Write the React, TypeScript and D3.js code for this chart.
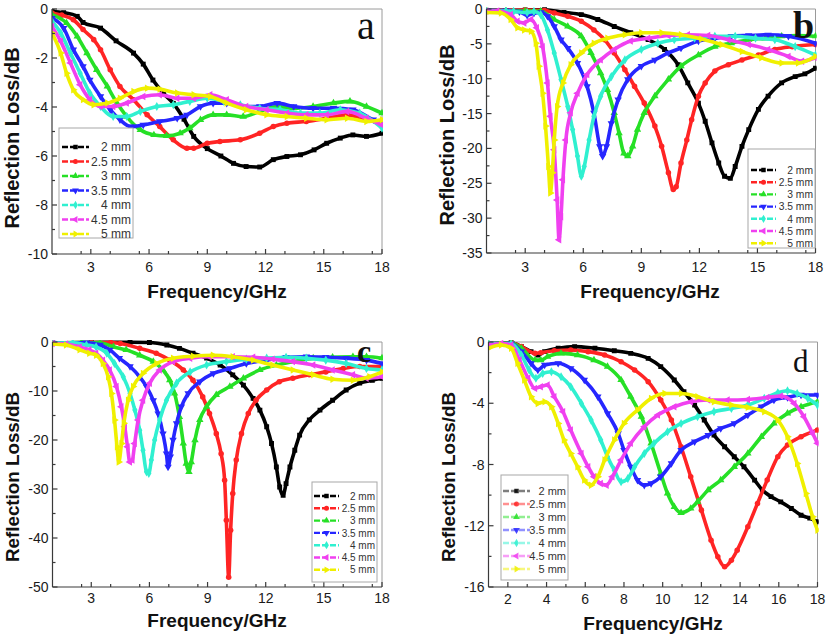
import React from 'react';
import * as d3 from 'd3';

type Pt = [number, number];

// ---------- DATA (frequency GHz, reflection loss dB) ----------
// Panel a
const a20: Pt[] = [[1,-0.1],[1.6,-0.15],[2.3,-0.3],[2.6,-0.55],[3.5,-0.78],[4.3,-1.3],[5.2,-1.8],[5.7,-2.25],[6.2,-2.9],[6.75,-3.45],[7.25,-3.85],[7.8,-4.5],[8.3,-5.2],[9,-5.7],[9.7,-6.0],[10.35,-6.3],[11,-6.43],[11.7,-6.45],[12.4,-6.15],[13.1,-6.02],[13.8,-5.95],[14.5,-5.75],[15.15,-5.48],[15.85,-5.27],[16.5,-5.14],[17.2,-5.2],[18,-5.07]];
const a25: Pt[] = [[1,-0.16],[1.5,-0.25],[2.1,-0.44],[2.6,-0.84],[3.15,-1.25],[3.5,-1.66],[4,-2.48],[4.5,-3.16],[5.2,-3.7],[5.9,-4.32],[6.55,-4.8],[7.25,-5.34],[7.95,-5.68],[8.3,-5.68],[9,-5.48],[9.65,-5.41],[10.7,-5.34],[11.7,-5.07],[12.4,-4.8],[13.1,-4.66],[14.1,-4.59],[15.15,-4.46],[16.2,-4.32],[17.2,-4.52],[18,-4.66]];
const a30: Pt[] = [[1,-0.23],[1.75,-0.57],[2.3,-1.12],[2.8,-1.8],[3.3,-2.48],[3.85,-3.16],[4.35,-3.84],[4.85,-4.39],[5.55,-4.93],[6.25,-5.14],[6.9,-5.18],[7.6,-5.07],[8.1,-4.86],[8.65,-4.52],[9.3,-4.32],[10,-4.32],[10.85,-4.39],[11.7,-4.18],[12.6,-3.98],[13.45,-4.05],[14.45,-3.98],[15.5,-3.84],[16.35,-3.77],[17.2,-3.98],[18,-4.25]];
const a35: Pt[] = [[1,-0.37],[1.6,-0.78],[2.1,-1.66],[2.6,-2.34],[2.95,-2.89],[3.5,-3.57],[4,-4.11],[4.5,-4.52],[5.05,-4.8],[5.7,-4.73],[6.55,-4.59],[7.45,-4.46],[7.95,-4.32],[8.65,-3.98],[9.3,-3.84],[10,-3.84],[10.85,-3.98],[11.7,-3.98],[12.6,-3.84],[13.45,-3.98],[14.45,-4.05],[15.5,-4.05],[16.5,-4.11],[17.55,-4.52],[18,-4.65]];
const a40: Pt[] = [[1,-0.5],[1.45,-0.98],[1.95,-1.8],[2.45,-2.62],[2.95,-3.43],[3.5,-3.98],[4.15,-4.39],[4.85,-4.39],[5.55,-4.18],[6.4,-3.98],[7.25,-3.91],[8.1,-3.77],[9,-3.64],[9.85,-3.77],[10.7,-3.91],[11.7,-4.05],[12.75,-4.11],[13.8,-4.25],[14.8,-4.25],[15.85,-4.11],[16.85,-4.25],[18,-4.86]];
const a45: Pt[] = [[1,-0.71],[1.45,-1.32],[1.95,-2.2],[2.45,-3.09],[2.95,-3.7],[3.5,-3.98],[4.15,-3.98],[4.85,-3.84],[5.7,-3.57],[6.55,-3.5],[7.45,-3.64],[8.3,-3.64],[9.15,-3.5],[10,-3.7],[11,-3.98],[12.05,-4.11],[13.1,-4.25],[14.1,-4.32],[15.15,-4.32],[16.2,-4.18],[17.2,-4.46],[18,-4.73]];
const a50: Pt[] = [[1,-0.98],[1.45,-1.8],[1.75,-2.62],[2.1,-3.3],[2.6,-3.7],[3.15,-3.91],[3.85,-3.84],[4.5,-3.64],[5.2,-3.37],[5.9,-3.23],[6.55,-3.27],[7.45,-3.43],[8.3,-3.5],[9.15,-3.57],[10,-3.84],[11,-4.11],[12.05,-4.32],[13.1,-4.39],[14.1,-4.46],[15.15,-4.52],[16.2,-4.46],[17.2,-4.59],[18,-4.52]];

// Panel b
const b20: Pt[] = [[1,-0.2],[2,-0.2],[3,-0.15],[4,-0.1],[5,-0.48],[5.9,-0.8],[6.75,-1.5],[7.6,-2.5],[8.45,-3.4],[9.35,-4.4],[10.2,-5.8],[10.9,-8],[11.4,-10.6],[11.95,-13.5],[12.3,-16.1],[12.65,-19.2],[13,-22.1],[13.3,-24],[13.6,-24.3],[13.85,-22.6],[14.2,-19.7],[14.55,-17.3],[15.05,-14.4],[15.55,-12.5],[16.25,-10.6],[16.95,-9.7],[17.45,-9.3],[18,-8.5]];
const b25: Pt[] = [[1,-0.2],[2,-0.2],[3,-0.15],[4,-0.2],[4.5,-0.57],[5.2,-1.05],[5.9,-1.77],[6.55,-3],[7.1,-4.4],[7.6,-6.3],[8.15,-8.7],[8.65,-11.1],[9.15,-13.5],[9.7,-16.8],[10.05,-19.7],[10.4,-23.5],[10.65,-25.9],[10.8,-25.5],[11.05,-22.1],[11.35,-18.8],[11.6,-15.9],[11.95,-12.5],[12.3,-10.6],[12.8,-8.9],[13.5,-8],[14.2,-7.3],[15.05,-6.6],[15.9,-5.8],[16.8,-5.4],[18,-5.1]];
const b30: Pt[] = [[1,-0.2],[2,-0.25],[3,-0.3],[3.8,-0.33],[4.5,-1.5],[5.2,-2.5],[5.9,-3.9],[6.4,-6.3],[6.9,-9.2],[7.25,-11.6],[7.6,-14.9],[7.85,-17.8],[8.1,-20.7],[8.3,-21.1],[8.55,-19.7],[8.8,-17.3],[9.15,-14.9],[9.7,-12.5],[10.4,-10.1],[11.05,-8.2],[11.95,-6.6],[12.8,-5.4],[13.65,-4.9],[14.55,-4.4],[15.4,-4.2],[16.25,-3.9],[17.1,-3.8],[18,-3.9]];
const b35: Pt[] = [[1,-0.2],[2,-0.25],[2.7,-0.4],[3.1,-0.9],[3.45,-0.6],[3.8,-0.5],[4.15,-1.05],[4.5,-2.5],[4.85,-4.4],[5.2,-5.6],[5.7,-7.75],[6.2,-11.1],[6.55,-14.9],[6.85,-19.7],[7,-21.1],[7.2,-19.7],[7.45,-16.4],[7.8,-13],[8.3,-10.1],[9,-8.2],[9.7,-7.3],[10.4,-6.3],[11.05,-5.6],[11.95,-4.6],[12.8,-4.2],[13.65,-3.9],[14.55,-3.8],[15.55,-3.7],[16.6,-3.9],[18,-4.9]];
const b40: Pt[] = [[1,-0.3],[2,-0.3],[2.4,-0.35],[3.1,-0.5],[3.45,-0.35],[3.8,-0.8],[4.15,-3],[4.5,-6.3],[4.85,-10.1],[5.2,-14],[5.45,-17.3],[5.7,-21.1],[5.9,-24],[6.05,-22.6],[6.3,-18.8],[6.55,-15.4],[6.9,-12.5],[7.45,-9.7],[8.15,-7.3],[9,-5.8],[9.85,-4.9],[10.7,-4.4],[11.75,-4.2],[12.8,-3.9],[13.85,-3.9],[14.9,-4.2],[15.9,-4.4],[16.95,-5.4],[18,-6.6]];
const b45: Pt[] = [[1,-0.3],[1.55,-0.3],[2.25,-0.8],[2.6,-1.77],[2.95,-2],[3.3,-1.5],[3.6,-2.7],[3.9,-5.4],[4.15,-10.6],[4.3,-15.4],[4.5,-20.2],[4.65,-27.4],[4.75,-33.1],[4.85,-29.8],[4.95,-24.5],[5.1,-18.8],[5.35,-14.9],[5.7,-12.1],[6.2,-9.4],[6.9,-7.3],[7.6,-5.8],[8.45,-4.6],[9.35,-4.2],[10.4,-3.8],[11.4,-3.7],[12.45,-3.8],[13.5,-4.4],[14.55,-5.1],[15.55,-5.8],[16.6,-6.8],[17.3,-7.5],[18,-7]];
const b50: Pt[] = [[1,-0.5],[1.75,-0.57],[2.25,-1.5],[2.6,-2.7],[2.95,-3],[3.3,-3.2],[3.55,-4.9],[3.7,-8.2],[3.9,-12.1],[4.05,-16.8],[4.2,-22.6],[4.3,-26.4],[4.4,-23.5],[4.5,-18.8],[4.65,-14],[4.95,-10.6],[5.35,-8],[5.9,-6.3],[6.55,-4.9],[7.25,-4.2],[8.15,-3.7],[9,-3.4],[10.05,-3.4],[11.05,-3.7],[12.1,-4.3],[13.15,-5.1],[14.2,-6.1],[15.2,-7],[16.25,-7.75],[17.1,-7.75],[18,-6.8]];

// Panel c
const c20: Pt[] = [[1,-0.2],[3,-0.1],[5,-0.05],[6,-0.1],[6.9,-0.6],[7.55,-1.3],[8.25,-2.3],[8.95,-3.3],[9.65,-4.7],[10.3,-6.7],[10.85,-8.8],[11.35,-11.5],[11.7,-13.9],[12.05,-17.3],[12.3,-20.7],[12.55,-25.5],[12.72,-29.6],[12.9,-31.3],[13.05,-28.9],[13.25,-25.5],[13.5,-22.1],[13.75,-19],[14.25,-15.9],[14.8,-13.9],[15.45,-11.9],[16.15,-9.8],[16.85,-8.4],[17.5,-7.8],[18,-7.4]];
const c25: Pt[] = [[1,-0.2],[3,-0.1],[4,-0.1],[4.5,-0.3],[5.5,-1.3],[6.35,-2.3],[7.05,-3.7],[7.75,-5.7],[8.25,-7.8],[8.75,-11.2],[9.1,-14.6],[9.45,-18.7],[9.7,-22.8],[9.88,-28.2],[9.97,-36.4],[10.09,-48],[10.19,-38.4],[10.3,-30.9],[10.48,-24.1],[10.75,-18.7],[11.1,-14.6],[11.5,-11.9],[12.05,-9.8],[12.7,-8.1],[13.4,-7.4],[14.25,-6.7],[15.1,-6.1],[16,-5.4],[16.85,-5],[18,-5]];
const c30: Pt[] = [[1,-0.2],[2.5,-0.1],[3.45,-0.15],[4.15,-1],[4.8,-1.6],[5.5,-2.7],[6.2,-4],[6.7,-5.7],[7.05,-7.8],[7.3,-10.5],[7.55,-15.3],[7.75,-20.7],[7.9,-24.8],[8.04,-26.5],[8.16,-24.5],[8.35,-20],[8.6,-15.9],[8.95,-13.2],[9.45,-10.8],[10.15,-9.1],[10.85,-7.4],[11.7,-5.7],[12.55,-4.7],[13.4,-4],[14.45,-3.3],[15.45,-3.1],[16.5,-3],[17.2,-3],[18,-3.3]];
const c35: Pt[] = [[1,-0.2],[2.75,-0.15],[3.45,-0.6],[3.95,-1.6],[4.45,-3.3],[5,-5],[5.5,-7.1],[5.85,-9.1],[6.2,-11.9],[6.45,-14.6],[6.7,-18.7],[6.88,-22.8],[6.96,-25.5],[7.08,-23.4],[7.22,-20],[7.4,-16.6],[7.65,-13.2],[8,-10.5],[8.6,-8.1],[9.3,-6.4],[10.15,-5.4],[11,-4.4],[12.05,-3.7],[13.05,-3.1],[14.1,-3],[15.1,-3.1],[16.15,-3.3],[17.2,-3.7],[18,-4.4]];
const c40: Pt[] = [[1,-0.2],[2.05,-0.15],[2.75,-0.6],[3.25,-1],[3.8,-2.3],[4.2,-4.4],[4.65,-7.1],[5,-10.5],[5.25,-13.9],[5.5,-18],[5.67,-22.1],[5.85,-26.5],[5.97,-26.8],[6.1,-24.1],[6.27,-20],[6.53,-15.9],[6.88,-11.9],[7.4,-8.4],[8.1,-6.1],[8.95,-4.7],[9.97,-4],[11,-3.5],[12.05,-3.3],[13.05,-3.1],[14.1,-3.3],[15.1,-3.7],[16.15,-4.4],[17.2,-5.4],[18,-5.7]];
const c45: Pt[] = [[1,-0.3],[1.7,-0.4],[2.4,-1],[2.9,-1.6],[3.25,-2.3],[3.6,-3.7],[3.95,-5.7],[4.3,-9.1],[4.55,-13.2],[4.73,-17.3],[4.87,-21.4],[4.99,-24.5],[5.12,-24.1],[5.24,-20.7],[5.42,-15.9],[5.67,-11.9],[6.02,-8.4],[6.53,-5.7],[7.22,-4],[8.1,-3.3],[9.1,-3],[10.3,-3],[11.35,-3.1],[12.35,-3.5],[13.4,-4],[14.45,-4.7],[15.45,-5.7],[16.5,-6.7],[17.2,-7.4],[18,-7.1]];
const c50: Pt[] = [[1,-0.4],[1.7,-0.6],[2.4,-1.6],[2.9,-2.3],[3.25,-2.7],[3.6,-4.4],[3.87,-7.1],[4.04,-10.5],[4.2,-15.9],[4.33,-21.4],[4.42,-24.5],[4.56,-20.7],[4.68,-16.6],[4.9,-11.9],[5.16,-9.1],[5.67,-6.4],[6.36,-4.4],[7.22,-3.3],[8.25,-2.9],[9.28,-2.7],[10.3,-3],[11.35,-3.7],[12.35,-4.7],[13.4,-5.7],[14.45,-6.7],[15.45,-7.6],[16.5,-7.8],[17.35,-7.1],[18,-6.1]];

// Panel d
const d20: Pt[] = [[1,-0.13],[2.17,-0.05],[2.7,-0.3],[3.2,-0.63],[3.55,-0.85],[3.9,-0.63],[4.6,-0.41],[5.45,-0.3],[6.5,-0.41],[7.5,-0.57],[8.35,-0.74],[9.25,-1.07],[9.9,-1.61],[10.6,-2.48],[11.1,-3.25],[11.65,-4.12],[12.15,-5.1],[12.65,-6.08],[13.2,-6.84],[13.7,-7.49],[14.2,-8.15],[14.75,-9.02],[15.15,-9.67],[15.6,-10.1],[16.1,-10.44],[16.65,-10.87],[17.15,-11.31],[17.6,-11.5],[18,-11.74]];
const d25: Pt[] = [[1,-0.1],[2.17,-0.05],[2.7,-0.3],[3.4,-0.74],[3.7,-0.7],[4.4,-0.57],[5.25,-0.52],[6.15,-0.63],[7,-0.85],[7.85,-1.29],[8.55,-1.83],[9.25,-2.59],[9.9,-3.79],[10.45,-5.1],[10.95,-6.84],[11.45,-8.8],[12,-10.98],[12.5,-12.94],[12.85,-14.03],[13.2,-14.68],[13.55,-14.25],[13.85,-13.6],[14.4,-12.07],[14.9,-10.54],[15.4,-9.02],[15.95,-7.49],[16.45,-6.73],[17.15,-6.19],[18,-5.75]];
const d30: Pt[] = [[1,-0.1],[2.17,-0.05],[2.7,-0.41],[3.4,-1.18],[3.7,-1.18],[4.05,-0.96],[4.75,-0.74],[5.6,-0.85],[6.45,-1.18],[7.15,-1.61],[7.85,-2.48],[8.35,-3.57],[8.9,-4.88],[9.4,-6.62],[9.9,-8.58],[10.25,-9.89],[10.6,-10.76],[10.95,-11.15],[11.45,-10.87],[11.8,-10.44],[12.35,-9.67],[13,-9.02],[13.7,-8.15],[14.4,-7.28],[15.1,-6.19],[15.75,-5.32],[16.45,-4.66],[17.15,-4.23],[18,-3.9]];
const d35: Pt[] = [[1,-0.1],[2.17,-0.1],[2.7,-0.63],[3.2,-1.39],[3.55,-1.83],[3.9,-1.5],[4.6,-1.39],[5.25,-1.72],[5.95,-2.48],[6.65,-3.57],[7.15,-4.66],[7.7,-5.97],[8,-7.06],[8.35,-8.15],[8.7,-9.02],[9.05,-9.35],[9.4,-9.24],[9.9,-8.8],[10.45,-7.93],[10.95,-7.06],[11.65,-6.51],[12.35,-6.08],[13,-5.64],[13.7,-5.32],[14.4,-4.77],[15.1,-4.23],[15.75,-3.79],[16.45,-3.62],[17.15,-3.46],[18,-3.46]];
const d40: Pt[] = [[1,-0.1],[2.17,-0.13],[2.7,-0.85],[3.1,-1.83],[3.45,-2.37],[3.8,-2.05],[4.25,-1.94],[4.75,-2.27],[5.25,-2.92],[5.8,-4.01],[6.3,-5.1],[6.8,-6.4],[7.15,-7.49],[7.5,-8.37],[7.85,-9.13],[8.2,-8.91],[8.55,-8.15],[9.05,-7.28],[9.55,-6.62],[10.25,-5.86],[10.95,-5.32],[11.8,-4.88],[12.65,-4.55],[13.55,-4.34],[14.4,-4.12],[15.25,-3.68],[15.95,-3.31],[16.45,-3.18],[16.95,-3.36],[17.5,-3.68],[18,-4.12]];
const d45: Pt[] = [[1,-0.2],[1.65,-0.1],[2.17,-0.2],[2.6,-1.18],[3.05,-2.37],[3.4,-3.03],[3.7,-2.92],[4.05,-2.81],[4.4,-3.57],[4.85,-4.55],[5.25,-5.75],[5.8,-7.28],[6.15,-8.15],[6.45,-8.8],[6.8,-9.24],[7.1,-9.35],[7.4,-8.8],[7.85,-7.71],[8.35,-6.62],[9.05,-5.53],[9.75,-4.77],[10.6,-4.23],[11.45,-3.9],[12.35,-3.79],[13.35,-3.79],[14.4,-3.75],[15.4,-3.62],[16.1,-3.53],[16.8,-4.01],[17.3,-4.88],[17.75,-5.97],[18,-6.62]];
const d50: Pt[] = [[1,-0.41],[1.65,-0.2],[2.17,-0.41],[2.5,-1.39],[2.85,-2.48],[3.2,-3.57],[3.55,-4.01],[3.9,-3.9],[4.25,-4.23],[4.6,-5.32],[4.9,-6.4],[5.25,-7.28],[5.6,-8.15],[5.95,-9.02],[6.3,-9.35],[6.65,-8.8],[7,-7.71],[7.5,-6.4],[8,-5.32],[8.7,-4.44],[9.4,-3.68],[10.1,-3.36],[10.95,-3.36],[11.8,-3.57],[12.65,-3.9],[13.55,-4.12],[14.4,-4.27],[15.25,-4.55],[15.95,-5.1],[16.45,-6.19],[16.95,-7.93],[17.4,-9.89],[17.75,-11.42],[18,-12.29]];

const thicknessLabels = ['2 mm', '2.5 mm', '3 mm', '3.5 mm', '4 mm', '4.5 mm', '5 mm'];
const seriesColors = ['#000000', '#ff2424', '#26e026', '#2626ff', '#30f0d0', '#f040f0', '#f0f000'];
const markerShapes = ['square', 'circle', 'up', 'down', 'diamond', 'left', 'right'];

const panelLetters = ['a', 'b', 'c', 'd'];
const xTicksMain = [3, 6, 9, 12, 15, 18];
const xTicksD = [2, 4, 6, 8, 10, 12, 14, 16, 18];
const yTicksA = [0, -2, -4, -6, -8, -10];
const yTicksB = [0, -5, -10, -15, -20, -25, -30, -35];
const yTicksC = [0, -10, -20, -30, -40, -50];
const yTicksD = [0, -4, -8, -12, -16];

const xTitle = 'Frequency/GHz';
const yTitle = 'Reflection Loss/dB';

// ---------- LAYOUT ----------
interface Layout {
  x0: number; x1: number; y0: number; y1: number;
  yMin: number; xTicks: number[]; xMinorStep: number; yTicks: number[]; yMinorStep: number;
  letter: { x: number; y: number; size: number; weight: string };
  legend: { x: number; y: number; w: number; h: number; row0: number; step: number; lx0: number; lx1: number; tx: number; fs: number; fade: boolean };
  yLab: { x: number; y: number; fs: number };
  xLab: { x: number; y: number };
  xTickY: number;
}

const layouts: Layout[] = [
  {
    x0: 52, x1: 382, y0: 9, y1: 254, yMin: -10, xTicks: xTicksMain, xMinorStep: 1.5, yTicks: yTicksA, yMinorStep: 1,
    letter: { x: 357, y: 39, size: 40, weight: 'normal' },
    legend: { x: 59, y: 128, w: 74, h: 110, row0: 147, step: 14.5, lx0: 62, lx1: 89, tx: 131, fs: 12, fade: false },
    yLab: { x: 12, y: 138, fs: 20 }, xLab: { x: 217, y: 298 }, xTickY: 272,
  },
  {
    x0: 486.5, x1: 815.5, y0: 9, y1: 253, yMin: -35, xTicks: xTicksMain, xMinorStep: 1.5, yTicks: yTicksB, yMinorStep: 2.5,
    letter: { x: 793, y: 38, size: 38, weight: 'bold' },
    legend: { x: 748, y: 149, w: 67, h: 99, row0: 170, step: 12.2, lx0: 751, lx1: 776, tx: 813, fs: 10.3, fade: false },
    yLab: { x: 447, y: 135, fs: 20 }, xLab: { x: 650, y: 298 }, xTickY: 272,
  },
  {
    x0: 52.5, x1: 382, y0: 342, y1: 587, yMin: -50, xTicks: xTicksMain, xMinorStep: 1.5, yTicks: yTicksC, yMinorStep: 5,
    letter: { x: 357, y: 362, size: 32, weight: 'bold' },
    legend: { x: 312, y: 482, w: 65, h: 100, row0: 496, step: 12.3, lx0: 314, lx1: 339, tx: 375, fs: 10, fade: false },
    yLab: { x: 12, y: 477, fs: 18.8 }, xLab: { x: 217, y: 627 }, xTickY: 603,
  },
  {
    x0: 488.5, x1: 817.5, y0: 342, y1: 587, yMin: -16, xTicks: xTicksD, xMinorStep: 1, yTicks: yTicksD, yMinorStep: 2,
    letter: { x: 793, y: 372, size: 31, weight: 'normal' },
    legend: { x: 501, y: 475, w: 67, h: 105, row0: 491, step: 13, lx0: 503, lx1: 530, tx: 566, fs: 11, fade: true },
    yLab: { x: 448, y: 477, fs: 18.8 }, xLab: { x: 653, y: 630 }, xTickY: 604,
  },
];

const panelSeries: Pt[][][] = [
  [a20, a25, a30, a35, a40, a45, a50],
  [b20, b25, b30, b35, b40, b45, b50],
  [c20, c25, c30, c35, c40, c45, c50],
  [d20, d25, d30, d35, d40, d45, d50],
];

const SANS = '"Liberation Sans", Arial, "DejaVu Sans", sans-serif';
const SERIF = '"Liberation Serif", "Times New Roman", serif';

function markerPath(shape: string, size: number): { d: string; rot: number } {
  let type: d3.SymbolType = d3.symbolCircle;
  let rot = 0;
  switch (shape) {
    case 'square': type = d3.symbolSquare; break;
    case 'circle': type = d3.symbolCircle; break;
    case 'up': type = d3.symbolTriangle; break;
    case 'down': type = d3.symbolTriangle; rot = 180; break;
    case 'diamond': type = d3.symbolDiamond; break;
    case 'left': type = d3.symbolTriangle; rot = -90; break;
    case 'right': type = d3.symbolTriangle; rot = 90; break;
  }
  return { d: d3.symbol().type(type).size(size)() || '', rot };
}

function Panel({ lay, series, letter }: { lay: Layout; series: Pt[][]; letter: string }) {
  const x = d3.scaleLinear().domain([1, 18]).range([lay.x0, lay.x1]);
  const y = d3.scaleLinear().domain([lay.yMin, 0]).range([lay.y1, lay.y0]);
  const line = d3.line<Pt>().x((d) => x(d[0])).y((d) => y(d[1])).curve(d3.curveMonotoneX);

  const xMinor = d3.range(1, 18.001, lay.xMinorStep).filter((v) => !lay.xTicks.some((t) => Math.abs(t - v) < 1e-6) && v > 1.01);
  const yMinor = d3.range(0, lay.yMin - 0.001, -lay.yMinorStep).filter((v) => !lay.yTicks.some((t) => Math.abs(t - v) < 1e-6));
  const axisCol = '#3a3a3a';
  const frameCol = '#9a9a9a';
  const lg = lay.legend;
  const clipId = 'clip-' + letter;

  return (
    <g>
      <defs>
        <clipPath id={clipId}>
          <rect x={lay.x0} y={lay.y0 - 2} width={lay.x1 - lay.x0 + 1} height={lay.y1 - lay.y0 + 2} />
        </clipPath>
      </defs>
      {/* frame */}
      <line x1={lay.x0} x2={lay.x1} y1={lay.y0} y2={lay.y0} stroke={frameCol} strokeWidth={1} />
      <line x1={lay.x1} x2={lay.x1} y1={lay.y0} y2={lay.y1} stroke={frameCol} strokeWidth={1} />
      {/* curves */}
      <g clipPath={`url(#${clipId})`}>
        {series.map((s, i) => {
          const m = markerPath(markerShapes[i], 24);
          return (
            <g key={i}>
              <path d={line(s) || ''} fill="none" stroke={seriesColors[i]} strokeWidth={3.6} strokeLinejoin="round" strokeLinecap="round" />
              {s.map((p, j) => (
                <path key={j} d={m.d} transform={`translate(${x(p[0])},${y(p[1])}) rotate(${m.rot})`} fill={seriesColors[i]} />
              ))}
            </g>
          );
        })}
      </g>
      {/* axes */}
      <line x1={lay.x0} x2={lay.x1} y1={lay.y1} y2={lay.y1} stroke={axisCol} strokeWidth={1.2} />
      <line x1={lay.x0} x2={lay.x0} y1={lay.y0} y2={lay.y1} stroke={axisCol} strokeWidth={1.2} />
      {lay.xTicks.map((t) => (
        <g key={'xt' + t}>
          <line x1={x(t)} x2={x(t)} y1={lay.y1} y2={lay.y1 - 5} stroke={axisCol} strokeWidth={1.2} />
          <text x={x(t)} y={lay.xTickY} textAnchor="middle" fontFamily={SANS} fontSize={14} fill="#1a1a1a">{t}</text>
        </g>
      ))}
      {xMinor.map((t) => (
        <line key={'xm' + t} x1={x(t)} x2={x(t)} y1={lay.y1} y2={lay.y1 - 3} stroke={axisCol} strokeWidth={1.2} />
      ))}
      {lay.yTicks.map((t) => (
        <g key={'yt' + t}>
          <line x1={lay.x0} x2={lay.x0 + 5} y1={y(t)} y2={y(t)} stroke={axisCol} strokeWidth={1.2} />
          <text x={lay.x0 - 4} y={y(t)} dy="0.36em" textAnchor="end" fontFamily={SANS} fontSize={14} fill="#1a1a1a">{t}</text>
        </g>
      ))}
      {yMinor.map((t) => (
        <line key={'ym' + t} x1={lay.x0} x2={lay.x0 + 3} y1={y(t)} y2={y(t)} stroke={axisCol} strokeWidth={1.2} />
      ))}
      {/* titles */}
      <text x={lay.xLab.x} y={lay.xLab.y} textAnchor="middle" fontFamily={SANS} fontWeight="bold" fontSize={19} fill="#111">{xTitle}</text>
      <text transform={`translate(${lay.yLab.x},${lay.yLab.y}) rotate(-90)`} dy="0.36em" textAnchor="middle" fontFamily={SANS} fontWeight="bold" fontSize={lay.yLab.fs} fill="#111">{yTitle}</text>
      {/* panel letter */}
      <text x={lay.letter.x} y={lay.letter.y} fontFamily={SERIF} fontWeight={lay.letter.weight} fontSize={lay.letter.size} fill="#111">{letter}</text>
      {/* legend */}
      <rect x={lg.x} y={lg.y} width={lg.w} height={lg.h} fill="#ffffff" stroke="#a8a8a8" strokeWidth={1} />
      {thicknessLabels.map((lab, i) => {
        const ry = lg.row0 + i * lg.step;
        const m = markerPath(markerShapes[i], 20);
        const cx = (lg.lx0 + lg.lx1) / 2;
        const op = lg.fade ? 0.5 : 1;
        return (
          <g key={'lg' + i}>
            <line x1={lg.lx0} x2={lg.lx1} y1={ry} y2={ry} stroke={seriesColors[i]} strokeWidth={2.4} strokeDasharray="6,2" opacity={op} />
            <path d={m.d} transform={`translate(${cx},${ry}) rotate(${m.rot})`} fill={seriesColors[i]} opacity={lg.fade ? 0.85 : 1} />
            <text x={lg.tx} y={ry} dy="0.36em" textAnchor="end" fontFamily={SANS} fontSize={lg.fs} fill="#333">{lab}</text>
          </g>
        );
      })}
    </g>
  );
}

export default function App() {
  return (
    <div style={{ position: 'absolute', left: 0, top: 0, width: 829, height: 639, background: '#fff' }}>
      <svg width={829} height={639} viewBox="0 0 829 639" style={{ display: 'block' }}>
        <rect width={829} height={639} fill="#ffffff" />
        {layouts.map((lay, i) => (
          <Panel key={i} lay={lay} series={panelSeries[i]} letter={panelLetters[i]} />
        ))}
      </svg>
    </div>
  );
}
